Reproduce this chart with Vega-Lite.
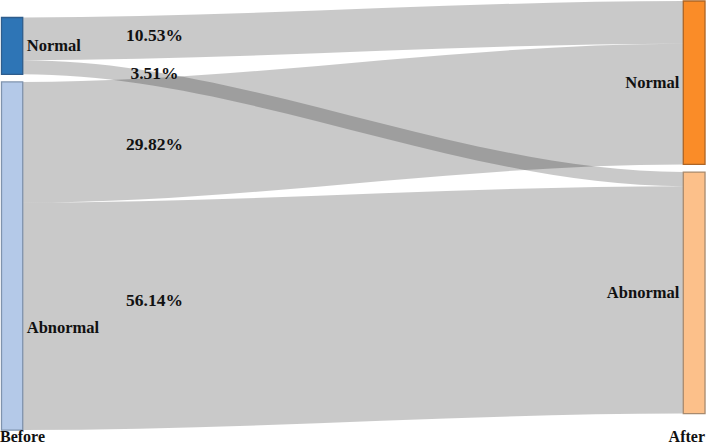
{
  "$schema": "https://vega.github.io/schema/vega-lite/v6.json",
  "width": 708,
  "height": 448,
  "autosize": {"type": "none"},
  "padding": 0,
  "background": "white",
  "config": {"view": {"stroke": null}, "text": {"font": "'Liberation Serif', 'Times New Roman', serif"}},
  "datasets": {
    "flows": [
      {"source": "Normal", "target": "Normal", "value": 10.53},
      {"source": "Normal", "target": "Abnormal", "value": 3.51},
      {"source": "Abnormal", "target": "Normal", "value": 29.82},
      {"source": "Abnormal", "target": "Abnormal", "value": 56.14}
    ],
    "nodes": [
      {"stage": "Before", "node": "Normal", "value": 14.04},
      {"stage": "Before", "node": "Abnormal", "value": 85.96},
      {"stage": "After", "node": "Normal", "value": 40.35},
      {"stage": "After", "node": "Abnormal", "value": 59.65}
    ],
    "stages": [
      {"stage": "Before"},
      {"stage": "After"}
    ]
  },
  "layer": [
    {
      "data": {"name": "flows"},
      "transform": [
        {"stack": "value", "groupby": [], "sort": [{"field": "source", "order": "descending"}, {"field": "target", "order": "descending"}], "as": ["l0", "l1"]},
        {"stack": "value", "groupby": [], "sort": [{"field": "target", "order": "descending"}, {"field": "source", "order": "descending"}], "as": ["r0", "r1"]},
        {"calculate": "4.32 + (datum.source == 'Abnormal' ? 1.88 : 0)", "as": "lOff"},
        {"calculate": "0.25 + (datum.target == 'Abnormal' ? 1.88 : 0)", "as": "rOff"},
        {"calculate": "datum.l0 + datum.lOff", "as": "ly0"},
        {"calculate": "datum.l1 + datum.lOff", "as": "ly1"},
        {"calculate": "datum.r0 + datum.rOff", "as": "ry0"},
        {"calculate": "datum.r1 + datum.rOff", "as": "ry1"},
        {"calculate": "datum.source + ' → ' + datum.target", "as": "flow"}
      ],
      "layer": [
        {
          "transform": [
            {"calculate": "0.21", "as": "p1"},
            {"calculate": "3.21", "as": "p2"},
            {"calculate": "96.51", "as": "p3"},
            {"calculate": "99.58", "as": "p4"},
            {"fold": ["p1", "p2", "p3", "p4"], "as": ["stop", "xpos"]},
            {"calculate": "(datum.stop == 'p1' || datum.stop == 'p2') ? datum.ly0 : datum.ry0", "as": "top"},
            {"calculate": "(datum.stop == 'p1' || datum.stop == 'p2') ? datum.ly1 : datum.ry1", "as": "bot"}
          ],
          "mark": {"type": "area", "interpolate": "monotone", "color": "#000000", "fillOpacity": 0.21, "strokeWidth": 0},
          "encoding": {
            "x": {"field": "xpos", "type": "quantitative", "scale": {"domain": [0, 100], "nice": false, "zero": false}, "axis": null},
            "y": {"field": "top", "type": "quantitative", "scale": {"domain": [0, 110.62], "nice": false, "zero": false, "reverse": true}, "axis": null},
            "y2": {"field": "bot"},
            "detail": {"field": "flow", "type": "nominal"}
          }
        },
        {
          "transform": [
            {"calculate": "(datum.ly0 + datum.ly1) / 2 + (datum.source == 'Normal' ? (datum.target == 'Normal' ? -0.58 : 1.67) : (datum.target == 'Normal' ? 0.53 : -3.83))", "as": "labY"},
            {"calculate": "format(datum.value, '.2f') + '%'", "as": "pct"}
          ],
          "mark": {"type": "text", "fontWeight": "bold", "fontSize": 17.5, "align": "center", "baseline": "middle", "color": "#111111"},
          "encoding": {
            "x": {"datum": 21.82, "type": "quantitative"},
            "y": {"field": "labY", "type": "quantitative"},
            "text": {"field": "pct", "type": "nominal"}
          }
        }
      ]
    },
    {
      "data": {"name": "nodes"},
      "transform": [
        {"stack": "value", "groupby": ["stage"], "sort": [{"field": "node", "order": "descending"}], "as": ["n0", "n1"]},
        {"calculate": "(datum.stage == 'Before' ? 4.32 : 0.25) + (datum.node == 'Abnormal' ? 1.88 : 0)", "as": "off"},
        {"calculate": "datum.n0 + datum.off", "as": "y0"},
        {"calculate": "datum.n1 + datum.off", "as": "y1"},
        {"calculate": "datum.stage == 'Before' ? 0.21 : 96.51", "as": "x0"},
        {"calculate": "datum.stage == 'Before' ? 3.21 : 99.58", "as": "x1"},
        {"calculate": "datum.stage + ' ' + datum.node", "as": "key"},
        {"calculate": "(datum.stage == 'Before' && datum.node == 'Abnormal') ? datum.y0 + 0.707 * (datum.y1 - datum.y0) : (datum.y0 + datum.y1) / 2", "as": "ny"}
      ],
      "layer": [
        {
          "mark": {"type": "rect", "strokeWidth": 1.3},
          "encoding": {
            "x": {"field": "x0", "type": "quantitative"},
            "x2": {"field": "x1"},
            "y": {"field": "y0", "type": "quantitative"},
            "y2": {"field": "y1"},
            "fill": {"field": "key", "type": "nominal", "legend": null, "scale": {"domain": ["Before Normal", "Before Abnormal", "After Normal", "After Abnormal"], "range": ["#2e75b6", "#b4c9e8", "#fa8c28", "#fcc08a"]}},
            "stroke": {"field": "key", "type": "nominal", "legend": null, "scale": {"domain": ["Before Normal", "Before Abnormal", "After Normal", "After Abnormal"], "range": ["#2f5d8c", "#7f93ad", "#ad6526", "#a88a6e"]}}
          }
        },
        {
          "transform": [{"filter": "datum.stage == 'Before'"}],
          "mark": {"type": "text", "fontWeight": "bold", "fontSize": 16.5, "align": "left", "baseline": "middle", "dx": 4, "color": "#111111"},
          "encoding": {
            "x": {"field": "x1", "type": "quantitative"},
            "y": {"field": "ny", "type": "quantitative"},
            "text": {"field": "node", "type": "nominal"}
          }
        },
        {
          "transform": [{"filter": "datum.stage == 'After'"}],
          "mark": {"type": "text", "fontWeight": "bold", "fontSize": 16.5, "align": "right", "baseline": "middle", "dx": -4, "color": "#111111"},
          "encoding": {
            "x": {"field": "x0", "type": "quantitative"},
            "y": {"field": "ny", "type": "quantitative"},
            "text": {"field": "node", "type": "nominal"}
          }
        }
      ]
    },
    {
      "data": {"name": "stages"},
      "transform": [{"filter": "datum.stage == 'Before'"}],
      "mark": {"type": "text", "fontWeight": "bold", "fontSize": 16, "align": "left", "baseline": "middle", "color": "#111111"},
      "encoding": {
        "x": {"datum": 0, "type": "quantitative"},
        "y": {"datum": 108.0, "type": "quantitative"},
        "text": {"field": "stage", "type": "nominal"}
      }
    },
    {
      "data": {"name": "stages"},
      "transform": [{"filter": "datum.stage == 'After'"}],
      "mark": {"type": "text", "fontWeight": "bold", "fontSize": 16, "align": "right", "baseline": "middle", "color": "#111111"},
      "encoding": {
        "x": {"datum": 99.58, "type": "quantitative"},
        "y": {"datum": 108.0, "type": "quantitative"},
        "text": {"field": "stage", "type": "nominal"}
      }
    }
  ]
}
